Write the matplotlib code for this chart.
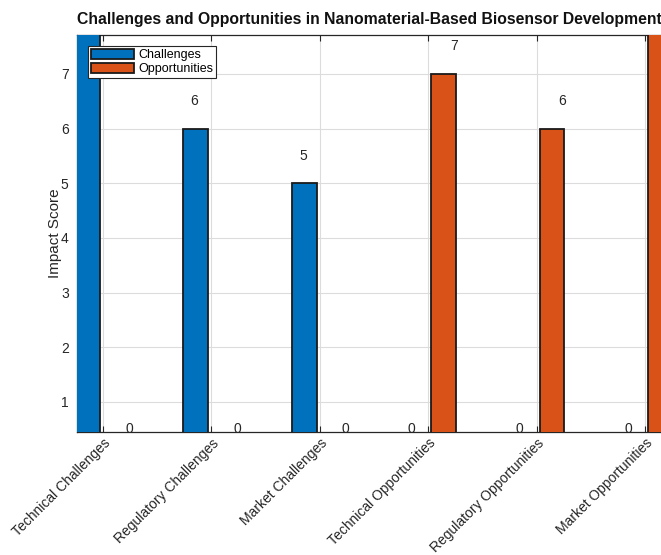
import matplotlib
matplotlib.use("Agg")
import matplotlib.pyplot as plt
import matplotlib.transforms as mtransforms
import numpy as np

plt.rcParams['font.family'] = ['Liberation Sans', 'DejaVu Sans']

categories = ["Technical Challenges", "Regulatory Challenges", "Market Challenges",
              "Technical Opportunities", "Regulatory Opportunities", "Market Opportunities"]
challenges = [8, 6, 5, 0, 0, 0]
opportunities = [0, 0, 0, 7, 6, 8]
series_names = ["Challenges", "Opportunities"]
y_ticks = [1, 2, 3, 4, 5, 6, 7]

blue = "#0072BD"
orange = "#D95319"
axc = "#262626"

fig = plt.figure(figsize=(6.61, 5.55), dpi=100)
ax = fig.add_axes([77/661, 123/555, (662-77)/661, (432-35)/555])

x = np.arange(1, len(categories) + 1)
off = 0.143
w = 0.229
ax.bar(x - off, challenges, w, color=blue, edgecolor="#1a1a1a", linewidth=1.3,
       label=series_names[0], zorder=3)
ax.bar(x + off, opportunities, w, color=orange, edgecolor="#1a1a1a", linewidth=1.3,
       label=series_names[1], zorder=3)

ymin, ymax = 0.45, 7.71
for xi, v in zip(x, challenges):
    if v + 0.5 < ymax:
        ax.text(xi - 0.155, v + 0.5, f"{v}", ha="center", va="center", fontsize=10, color=axc)
for xi, v in zip(x, opportunities):
    if v + 0.5 < ymax:
        ax.text(xi + 0.24, v + 0.5, f"{v}", ha="center", va="center", fontsize=10, color=axc)

ax.set_xlim(0.76, 6.157)
ax.set_ylim(ymin, ymax)
ax.set_xticks(x)
ax.set_yticks(y_ticks)
offset = mtransforms.ScaledTranslation(9/100, -2/100, fig.dpi_scale_trans)
ax.set_xticklabels(categories, rotation=45, ha="right", va="top", rotation_mode="anchor",
                   fontsize=10, color=axc)
for lbl in ax.get_xticklabels():
    lbl.set_transform(lbl.get_transform() + offset)
ax.tick_params(axis="both", direction="in", length=4, width=0.8, colors=axc,
               top=True, right=True, labelsize=10)
ax.tick_params(axis="x", pad=3)
ax.tick_params(axis="y", pad=6)
for s in ax.spines.values():
    s.set_color(axc)
    s.set_linewidth(0.9)
ax.grid(True, color="#dcdcdc", linewidth=0.8, zorder=0)
ax.set_axisbelow(True)

ax.set_ylabel("Impact Score", fontsize=11, color=axc, labelpad=-1)
ax.set_title("Challenges and Opportunities in Nanomaterial-Based Biosensor Development",
             fontsize=11.3, fontweight="bold", color="#111111", pad=8)

leg = ax.legend(loc="upper left", bbox_to_anchor=(0.019, 0.972), fontsize=9,
                frameon=True, fancybox=False, edgecolor=axc, framealpha=1,
                handlelength=3.5, handleheight=0.85, borderpad=0.2, labelspacing=0.15,
                handletextpad=0.3, borderaxespad=0)
leg.get_frame().set_linewidth(0.8)

fig.savefig("out.png", dpi=100)
